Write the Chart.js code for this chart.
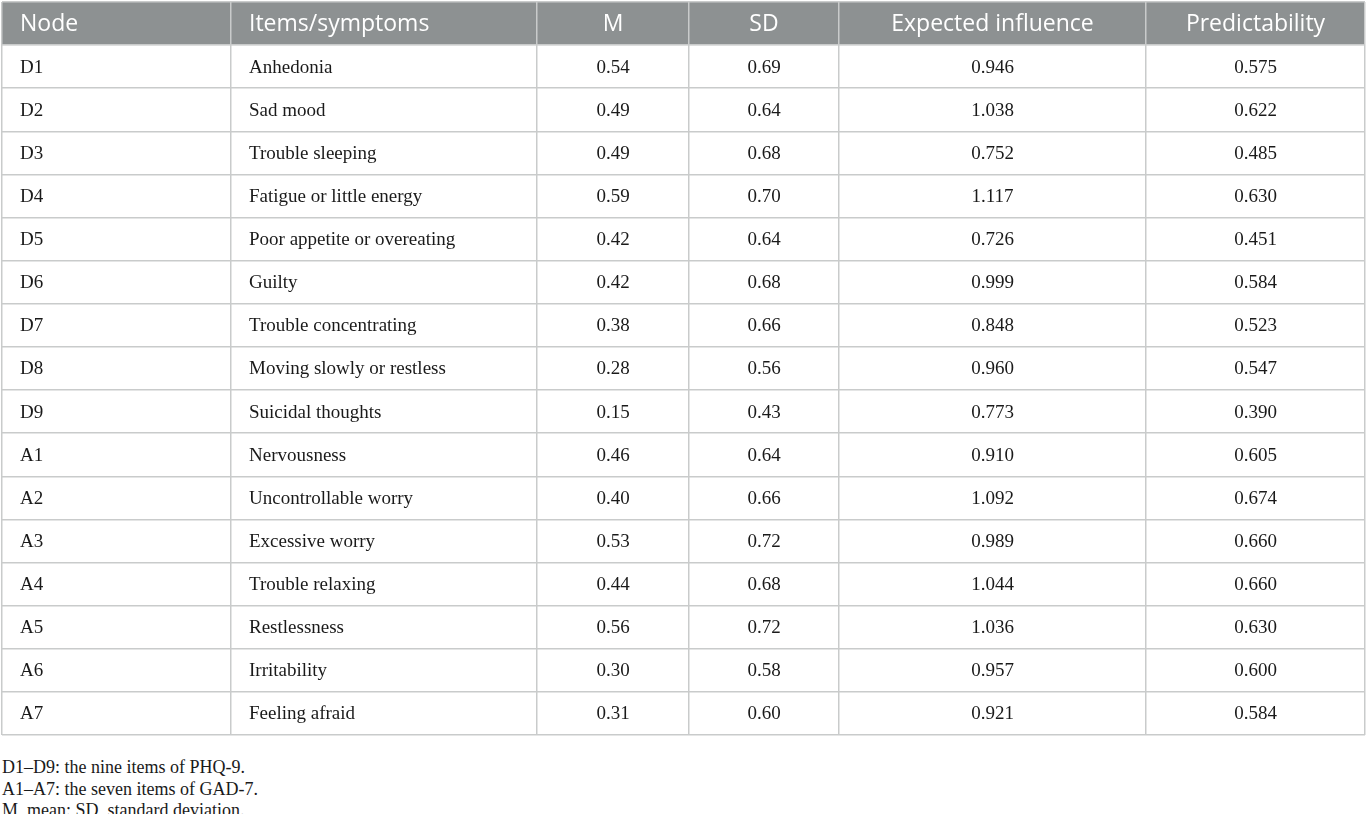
<!DOCTYPE html>
<html lang="en">
<head>
    <meta charset="UTF-8">
    <title>Node statistics</title>
    <style>
        body {
            margin: 0;
            padding: 0;
            background: #ffffff;
            width: 1369px;
            height: 814px;
            overflow: hidden;
            position: relative;
        }

        .chart-container {
            position: absolute;
            left: 0;
            top: 0;
            width: 1369px;
            height: 740px;
        }

        .notes {
            position: absolute;
            left: 2px;
            top: 757px;
            font-family: "Liberation Serif", "DejaVu Serif", serif;
            font-size: 18px;
            line-height: 21.5px;
            color: #1a1a1a;
        }
    </style>
</head>
<body>
    <div class="chart-container">
        <canvas id="tableChart"></canvas>
    </div>
    <div class="notes">
        <div>D1–D9: the nine items of PHQ-9.</div>
        <div>A1–A7: the seven items of GAD-7.</div>
        <div>M, mean; SD, standard deviation.</div>
    </div>

    <script src="https://cdn.jsdelivr.net/npm/chart.js"></script>
    <script>
        // Datos de la tabla
        const headers = ['Node', 'Items/symptoms', 'M', 'SD', 'Expected influence', 'Predictability'];
        const nodes = ['D1', 'D2', 'D3', 'D4', 'D5', 'D6', 'D7', 'D8', 'D9', 'A1', 'A2', 'A3', 'A4', 'A5', 'A6', 'A7'];
        const symptoms = ['Anhedonia', 'Sad mood', 'Trouble sleeping', 'Fatigue or little energy',
            'Poor appetite or overeating', 'Guilty', 'Trouble concentrating', 'Moving slowly or restless',
            'Suicidal thoughts', 'Nervousness', 'Uncontrollable worry', 'Excessive worry',
            'Trouble relaxing', 'Restlessness', 'Irritability', 'Feeling afraid'];
        const means = ['0.54', '0.49', '0.49', '0.59', '0.42', '0.42', '0.38', '0.28', '0.15',
            '0.46', '0.40', '0.53', '0.44', '0.56', '0.30', '0.31'];
        const sds = ['0.69', '0.64', '0.68', '0.70', '0.64', '0.68', '0.66', '0.56', '0.43',
            '0.64', '0.66', '0.72', '0.68', '0.72', '0.58', '0.60'];
        const expectedInfluence = ['0.946', '1.038', '0.752', '1.117', '0.726', '0.999', '0.848', '0.960',
            '0.773', '0.910', '1.092', '0.989', '1.044', '1.036', '0.957', '0.921'];
        const predictability = ['0.575', '0.622', '0.485', '0.630', '0.451', '0.584', '0.523', '0.547',
            '0.390', '0.605', '0.674', '0.660', '0.660', '0.630', '0.600', '0.584'];

        // Maquetación (no son datos)
        const colEdges = [0, 229, 535, 687, 837, 1144, 1363];
        const colAlign = ['left', 'left', 'center', 'center', 'center', 'center'];
        const cellPad = 18;
        const gridColor = '#c9cbcb';
        const headerBg = '#8d9192';

        const columns = [nodes, symptoms, means, sds, expectedInfluence, predictability];
        const rowLabels = ['header', ...nodes];

        function anchorX(c) {
            return colAlign[c] === 'left' ? colEdges[c] + cellPad : (colEdges[c] + colEdges[c + 1]) / 2;
        }

        const datasets = columns.map((col, c) => ({
            label: headers[c],
            data: col.map((v, i) => ({ x: anchorX(c), y: nodes[i], text: v })),
            pointRadius: 0,
            pointHoverRadius: 0
        }));

        const tablePlugin = {
            id: 'tablePlugin',
            beforeDraw(chart) {
                const { ctx, chartArea, scales } = chart;
                const y = scales.y;
                const half = (y.getPixelForValue(1) - y.getPixelForValue(0)) / 2;
                const yc = y.getPixelForValue(0);
                ctx.save();
                ctx.fillStyle = headerBg;
                ctx.fillRect(chartArea.left, yc - half, chartArea.right - chartArea.left, half * 2);
                ctx.restore();
            },
            afterDatasetsDraw(chart) {
                const { ctx, scales } = chart;
                const x = scales.x;
                const y = scales.y;
                ctx.save();
                ctx.textBaseline = 'middle';

                // Cabecera
                ctx.fillStyle = '#ffffff';
                ctx.font = '23px "Open Sans", "Noto Sans", sans-serif';
                headers.forEach((h, c) => {
                    ctx.textAlign = colAlign[c];
                    ctx.fillText(h, x.getPixelForValue(anchorX(c)), y.getPixelForValue(0) + 1);
                });

                // Celdas
                ctx.fillStyle = '#1a1a1a';
                ctx.font = '19px "Liberation Serif", "DejaVu Serif", serif';
                chart.data.datasets.forEach((ds, c) => {
                    const meta = chart.getDatasetMeta(c);
                    ctx.textAlign = colAlign[c];
                    meta.data.forEach((pt, i) => {
                        ctx.fillText(ds.data[i].text, pt.x, pt.y + 1);
                    });
                });
                ctx.restore();
            }
        };

        const ctx = document.getElementById('tableChart').getContext('2d');
        const tableChart = new Chart(ctx, {
            type: 'scatter',
            data: { datasets },
            options: {
                responsive: true,
                maintainAspectRatio: false,
                animation: false,
                events: [],
                layout: {
                    padding: { left: 2, top: 2, right: 4, bottom: 5 }
                },
                plugins: {
                    legend: { display: false },
                    tooltip: { enabled: false }
                },
                scales: {
                    x: {
                        type: 'linear',
                        min: colEdges[0],
                        max: colEdges[colEdges.length - 1],
                        afterBuildTicks: (scale) => {
                            scale.ticks = colEdges.map(v => ({ value: v }));
                        },
                        ticks: { display: false },
                        grid: { color: gridColor, lineWidth: 1.5, drawTicks: false },
                        border: { display: false }
                    },
                    y: {
                        type: 'category',
                        labels: rowLabels,
                        offset: true,
                        ticks: { display: false },
                        grid: { color: gridColor, lineWidth: 1.5, drawTicks: false, offset: true },
                        border: { display: false }
                    }
                }
            },
            plugins: [tablePlugin]
        });
    </script>
</body>
</html>
